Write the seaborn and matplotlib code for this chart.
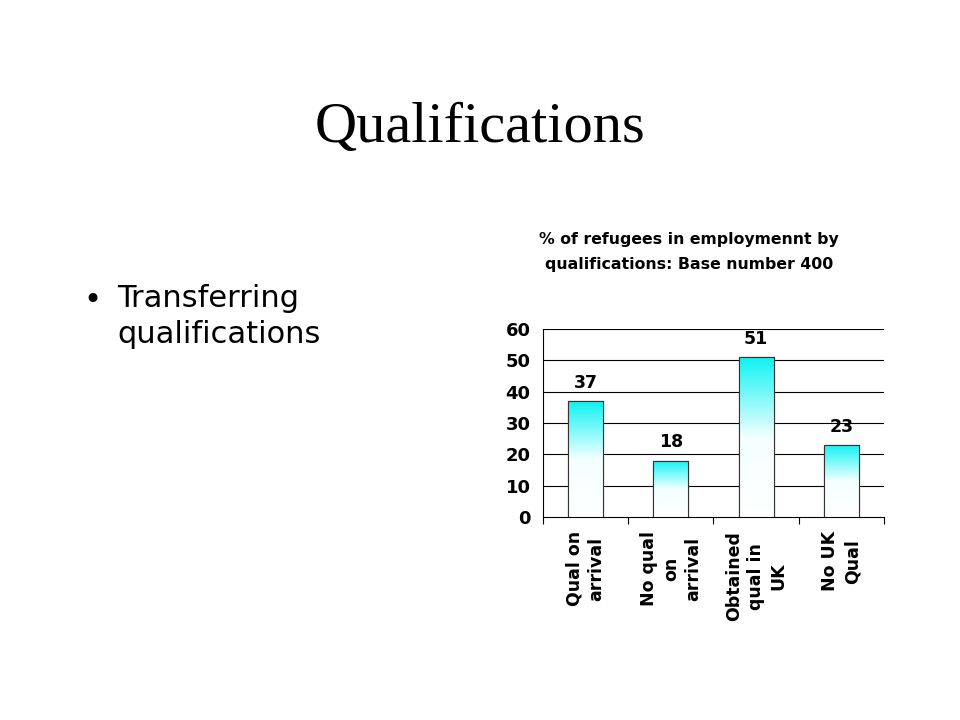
import numpy as np
import pandas as pd
import matplotlib
matplotlib.use("Agg")
import matplotlib.pyplot as plt
import seaborn as sns
from matplotlib.colors import LinearSegmentedColormap

# values
categories = ["Qual on\narrival", "No qual\non\narrival", "Obtained\nqual in\nUK", "No UK\nQual"]
percent = [37, 18, 51, 23]
y_ticks = [0, 10, 20, 30, 40, 50, 60]

slide_title = "Qualifications"
bullet_lines = ["Transferring", "qualifications"]
chart_title = "% of refugees in employmennt by\nqualifications: Base number 400"

sns.set_theme(style="white")
plt.rcParams['font.family'] = ['DejaVu Sans']

df = pd.DataFrame({"category": categories, "percent": percent})

fig = plt.figure(figsize=(9.6, 7.2), dpi=100)
fig.patch.set_facecolor("white")

fig.text(0.5, 0.822, slide_title, ha="center", va="center",
         fontsize=42, family="Liberation Serif", color="black")
fig.text(0.087, 0.582, "•", ha="left", va="center", fontsize=22, color="black")
fig.text(0.122, 0.585, bullet_lines[0], ha="left", va="center", fontsize=22, color="black")
fig.text(0.122, 0.535, bullet_lines[1], ha="left", va="center", fontsize=22, color="black")
fig.text(0.718, 0.65, chart_title, ha="center", va="center", fontsize=11.3,
         fontweight="bold", color="black", linespacing=1.9)

ax = fig.add_axes([0.5656, 0.2819, 0.3552, 0.2611])
sns.barplot(data=df, x="category", y="percent", ax=ax, width=0.41,
            color="white", edgecolor="black", linewidth=0.8, zorder=3)

ax.grid(False)
for t in y_ticks[1:]:
    ax.axhline(t, color="black", linewidth=0.8, zorder=1)

for s in ["top", "right"]:
    ax.spines[s].set_visible(False)
ax.spines["left"].set_color("black")
ax.spines["bottom"].set_color("black")
ax.spines["left"].set_linewidth(0.8)
ax.spines["bottom"].set_linewidth(0.8)

cmap = LinearSegmentedColormap.from_list("cy", ["#ffffff", "#f4ffff", "#10f2f2"])
grad = np.linspace(0, 1, 256).reshape(-1, 1)
for bar in list(ax.patches):
    x0, y0 = bar.get_x(), bar.get_y()
    w, h = bar.get_width(), bar.get_height()
    im = ax.imshow(grad, cmap=cmap, origin="lower", aspect="auto",
                   extent=[x0, x0 + w, y0, y0 + h], zorder=3.5)
    im.set_clip_path(bar)
    ax.bar(x0 + w / 2, h, width=w, bottom=y0, fill=False,
           edgecolor="#333333", linewidth=0.8, zorder=4)
    ax.text(x0 + w / 2, h + 3, f"{int(h)}", ha="center", va="bottom",
            fontsize=12.5, fontweight="bold", color="black")

ax.set_xlim(-0.5, len(categories) - 0.5)
ax.set_ylim(0, 60)
ax.set_yticks(y_ticks)
ax.set_xlabel("")
ax.set_ylabel("")
ax.set_xticks([])
ax.set_xticks(np.arange(-0.5, len(categories)), minor=True)
ax.tick_params(axis="x", which="minor", bottom=True, length=5, width=0.8, color="black")
ax.tick_params(axis="y", which="major", left=False, length=0, labelsize=13,
               pad=9, labelcolor="black")
for lbl in ax.get_yticklabels():
    lbl.set_fontweight("bold")

for i, cat in enumerate(categories):
    ax.text(i, -4.5, cat, rotation=90, ha="center", va="top",
            multialignment="center", fontsize=12.5, fontweight="bold",
            color="black", linespacing=1.3)

fig.savefig("out.png", dpi=100)
